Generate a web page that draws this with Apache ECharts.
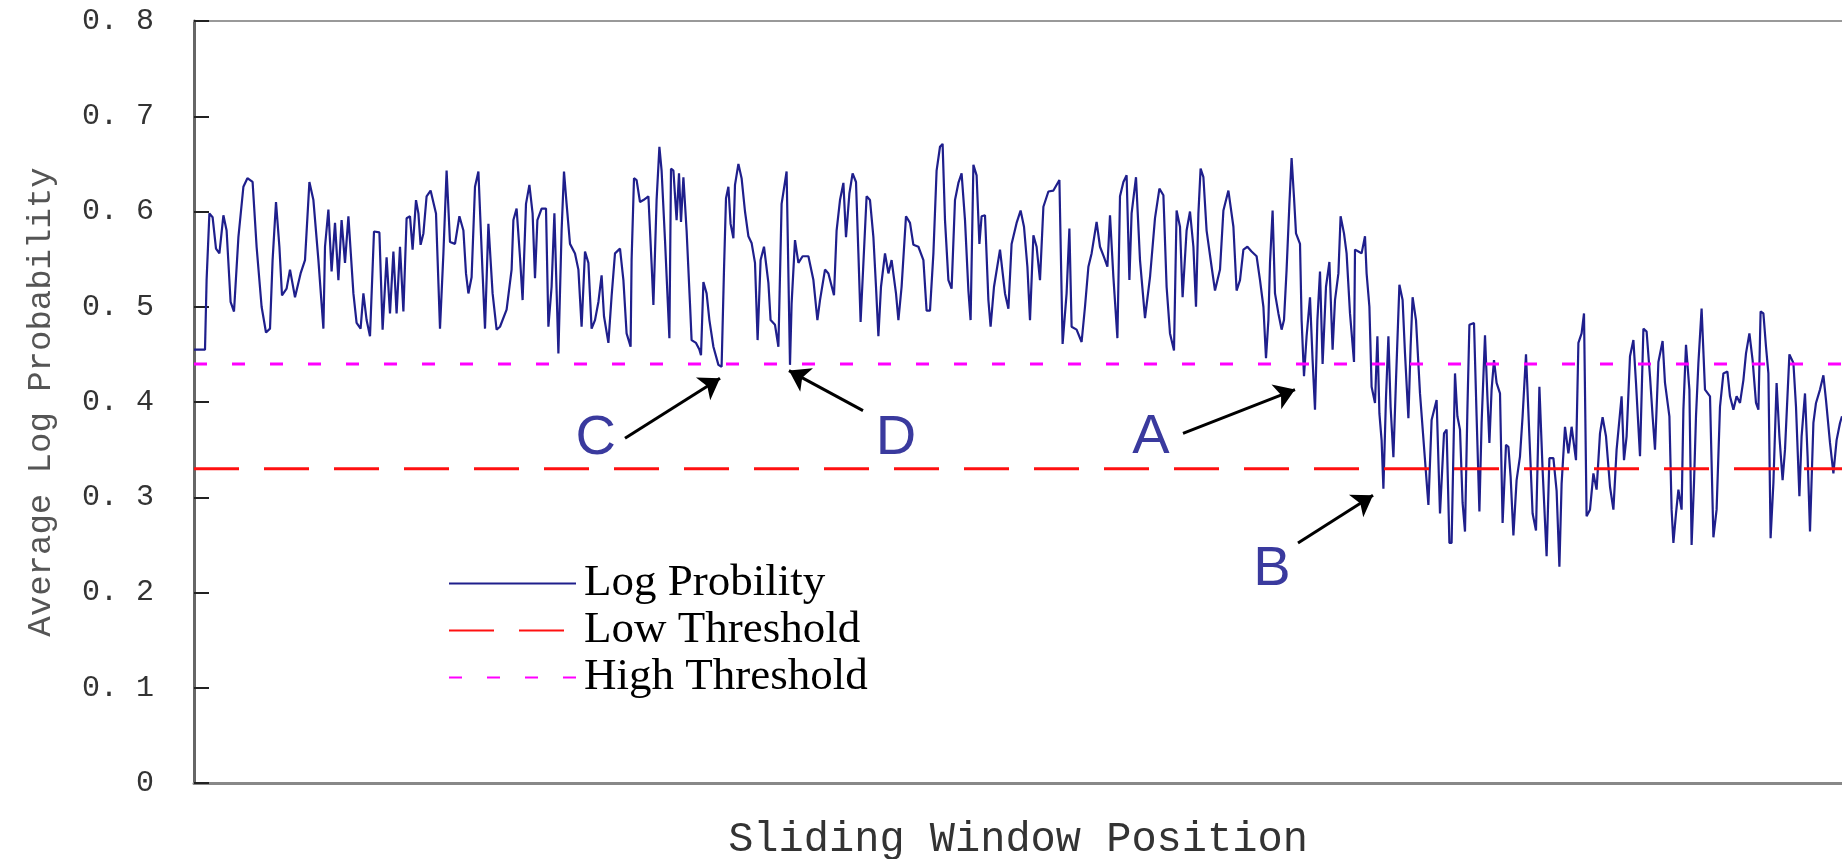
<!DOCTYPE html>
<html>
<head>
<meta charset="utf-8">
<title>Average Log Probability</title>
<script src="https://cdn.jsdelivr.net/npm/echarts@6/dist/echarts.min.js"></script>
<style>
  html, body { margin: 0; padding: 0; background: #fff; }
  #chart { width: 1842px; height: 859px; }
</style>
</head>
<body>
<div id="chart"></div>
<script>
// sliding window position (x) and average log probability (y)
const windowPos = [
  0, 5.5, 6.3, 7.7, 9.3, 11, 12.7, 14.7, 16.3, 18.3, 20, 22.2, 24.7, 26.7, 29.3, 31.3, 33.8, 36, 38, 39.3,
  41, 42.7, 44, 46.3, 48, 50.5, 53.3, 55.5, 57.7, 59.7, 62.2, 64.7, 65.5, 67.2, 68.8, 70.5, 72.2, 73.8, 75.5, 77.2,
  79.7, 81.3, 83.3, 84.7, 86.3, 88, 90, 92.7, 94.3, 96.3, 98, 99.7, 101.3, 103,
  104.7, 106.3, 108, 109.3, 111, 112.2, 113.3, 114.7, 116.3, 118.3, 121, 123, 124.7, 126.3, 128, 130.5, 132.7, 134.7,
  136, 137.2, 138.8, 140.5, 142.2, 144.3, 145.5, 147.2, 149.3, 151.3, 153, 156.3, 158.8, 159.7, 161.3, 163, 164.3,
  166, 167.7, 169.3, 170.5, 171.7, 173.8, 176, 177.2, 178.8, 180.2, 182.2, 183.8, 185, 186.3, 188, 190.5, 192.2,
  193.8, 195.5, 197.2, 198.8, 200.5, 202.2, 203.8, 205, 207.2,
  208.8, 210.5, 213, 214.7, 216.3, 218.3, 218.8, 220, 221.3, 223, 224.7, 227.2, 228.8, 229.7, 231.3, 232.7, 233.8,
  235.5, 237.7, 238.5, 239.7, 241.3, 242.5, 243.5, 244.7, 246.3, 248, 248.8, 251, 252.7, 253.5, 254.7, 256.3, 257.7,
  259.7, 262.2, 263.8, 265, 266, 267.2, 268.3, 269.7, 270.5, 272.2, 273.8, 275.5, 277.2, 278.8, 280.5, 281.8, 283.3,
  285, 287.2, 288.3, 290.5, 292.2, 293.8, 296.3, 298, 298.8, 300.5, 302.2, 304.3, 307.2, 309.7, 311.7, 313,
  315.5, 317.2, 320, 321.3, 323, 324.7, 326, 327.7, 329.3, 331, 332.2, 333.3, 334.7, 336.3, 338, 339.7, 341, 342.2,
  343.5, 345.5, 347.2, 348.8, 351, 352.2, 353.8, 356, 358, 359.7, 362.2, 364.7, 366.3, 368, 369.7, 371.3, 373, 374.3,
  375.5, 377.2, 378.8, 380.5, 382.2, 383.8, 385.5, 387.2, 388.3, 389.7, 391.3, 392.7, 393.8, 395.5, 397.2, 398.3,
  400, 403, 405.5, 407.2, 408.8, 411.3, 413.3, 415, 416.7, 418,
  419.7, 421.3, 423, 424.7, 427.2, 429.7, 432.7, 434.3, 436.3, 437.7, 438.8, 441.3, 443.8, 445.5, 447.2, 448.8,
  451.3, 453, 455, 456.7, 458, 459.7, 461.7, 463, 464.7, 466.3, 467.7, 468.8, 471, 473, 475.5, 478, 480.5, 482.7,
  484.7, 486.3, 488, 490, 491.3, 493, 494.3, 496.3, 498, 499.7, 501, 502.2, 503.3, 504.7, 506.3, 508.8, 510.5, 513,
  514.7, 517.2, 519.7, 521.3, 523,
  524.7, 526.7, 528.8, 531.3, 533, 534.7, 536, 537.2, 538, 539.3, 540.5, 542.2, 543.8, 545, 546.3, 547.7, 548.8,
  550, 551, 553, 553.8, 555, 556.3, 558, 559.3, 560.5, 561.7, 563, 564.3, 566, 567.7, 569.3, 570.5, 572.2, 573.3,
  575, 576.3, 578, 580, 580.5, 582.2, 583.8, 585.5, 586.3, 587.7, 588.8, 590.5, 591.7, 592.7, 593.8, 594.7, 596,
  597.2, 598.3, 599.7, 601, 602.7, 604.3, 605.5, 607.2, 608.3, 609.3, 611, 613, 615, 617.2, 618.8, 621.3, 623, 625,
  626.3, 627.7,
  628.8, 630.5, 631.7, 633, 634.3, 635.5, 636.7, 637.7, 640, 641.3, 642.7, 643.8, 645.5, 646.7, 647.7, 648.8, 650,
  651.3, 653, 654.3, 656, 657.2, 658.3, 659.7, 661.3, 663, 664.3, 666, 667.7, 669.3, 671, 672.7, 674.3, 676.3, 677.7,
  679.7, 681.3, 682.7, 683.8, 685.5, 687.2, 688.8, 691, 692.2, 693.8, 695, 696.3, 698, 699.7, 701.3, 703, 704.3,
  706, 708, 709.7, 711.3, 713.8, 715, 716.3, 718, 719.7, 721, 723, 724.7, 726.3, 728,
  729.3, 730.5, 732.2, 734.3, 735.5, 737.7, 738.8, 739.7, 741, 742.2, 743.8, 744.7, 746, 747.7, 748.8, 750, 751,
  752.2, 753.8, 755.5, 758, 759.7, 761.3, 763, 764.7, 766.7, 768, 769.7, 771.3, 773, 774.7, 776, 777.7, 779.3, 781,
  782.2, 783.3, 784.7, 786, 787.2, 788.3, 789.7, 791.3, 792.7, 794.3, 795.5, 797.7, 799.7, 801, 802.7, 803.8, 805.5,
  806.8, 808, 809.7, 811, 813, 814.7, 816, 818, 819.7, 821.3, 823, 824
];
const logProb = [
  0.455, 0.455, 0.528, 0.598, 0.594, 0.561, 0.556, 0.596, 0.580, 0.505, 0.495, 0.573, 0.626, 0.635, 0.631, 0.563, 0.500, 0.473, 0.477, 0.549,
  0.610, 0.563, 0.512, 0.519, 0.539, 0.510, 0.535, 0.549, 0.631, 0.612, 0.549, 0.477, 0.563, 0.602, 0.537, 0.588, 0.528, 0.591, 0.546, 0.595,
  0.514, 0.483, 0.477, 0.514, 0.486, 0.469, 0.579, 0.578, 0.476, 0.552, 0.493, 0.558, 0.493, 0.563,
  0.495, 0.593, 0.595, 0.560, 0.612, 0.598, 0.565, 0.577, 0.616, 0.622, 0.598, 0.477, 0.556, 0.643, 0.568, 0.566, 0.595, 0.580,
  0.535, 0.514, 0.531, 0.626, 0.642, 0.535, 0.477, 0.587, 0.514, 0.476, 0.479, 0.497, 0.539, 0.591, 0.603, 0.552, 0.507,
  0.608, 0.628, 0.598, 0.530, 0.591, 0.603, 0.603, 0.479, 0.521, 0.598, 0.451, 0.580, 0.642, 0.608, 0.566, 0.556, 0.539,
  0.479, 0.558, 0.546, 0.477, 0.486, 0.505, 0.533, 0.490, 0.462,
  0.511, 0.556, 0.561, 0.528, 0.472, 0.458, 0.549, 0.635, 0.633, 0.610, 0.612, 0.616, 0.545, 0.502, 0.612, 0.668, 0.643,
  0.570, 0.467, 0.645, 0.643, 0.591, 0.640, 0.589, 0.636, 0.580, 0.503, 0.465, 0.462, 0.455, 0.449, 0.526, 0.514, 0.486,
  0.458, 0.439, 0.437, 0.539, 0.614, 0.626, 0.587, 0.572, 0.628, 0.650, 0.635, 0.600, 0.574, 0.567, 0.546, 0.465, 0.549,
  0.563, 0.525, 0.486, 0.481, 0.458, 0.608, 0.642, 0.439, 0.503, 0.570, 0.546, 0.553, 0.553, 0.528, 0.486, 0.507,
  0.539, 0.535, 0.512, 0.580, 0.612, 0.630, 0.573, 0.619, 0.640, 0.631, 0.556, 0.484, 0.546, 0.616, 0.612, 0.573, 0.521, 0.469,
  0.521, 0.556, 0.535, 0.549, 0.514, 0.486, 0.521, 0.595, 0.588, 0.565, 0.563, 0.549, 0.496, 0.496, 0.556, 0.643, 0.668, 0.671,
  0.591, 0.528, 0.519, 0.612, 0.630, 0.640, 0.591, 0.517, 0.486, 0.649, 0.638, 0.566, 0.595, 0.596, 0.507, 0.479,
  0.521, 0.560, 0.514, 0.498, 0.566, 0.588, 0.601, 0.584, 0.542, 0.486,
  0.575, 0.563, 0.528, 0.605, 0.621, 0.622, 0.633, 0.461, 0.514, 0.582, 0.479, 0.476, 0.463, 0.500, 0.542, 0.556,
  0.589, 0.563, 0.552, 0.542, 0.596, 0.531, 0.467, 0.616, 0.631, 0.638, 0.528, 0.598, 0.636, 0.549, 0.488, 0.531, 0.593, 0.624,
  0.617, 0.521, 0.472, 0.454, 0.601, 0.584, 0.510, 0.580, 0.600, 0.563, 0.500, 0.598, 0.645, 0.636, 0.580, 0.542, 0.517, 0.539,
  0.601, 0.622, 0.584, 0.517, 0.528,
  0.560, 0.563, 0.558, 0.553, 0.528, 0.500, 0.446, 0.486, 0.546, 0.601, 0.514, 0.493, 0.476, 0.486, 0.539, 0.608, 0.656,
  0.615, 0.577, 0.566, 0.486, 0.427, 0.469, 0.510, 0.444, 0.392, 0.486, 0.537, 0.440, 0.521, 0.547, 0.455, 0.507, 0.535, 0.595,
  0.577, 0.556, 0.493, 0.442, 0.560, 0.558, 0.556, 0.574, 0.535, 0.500, 0.416, 0.399, 0.469, 0.388, 0.360, 0.309, 0.405,
  0.469, 0.395, 0.342, 0.423, 0.523, 0.507, 0.451, 0.383, 0.458, 0.510, 0.486, 0.409, 0.353, 0.292, 0.381, 0.402, 0.283, 0.367,
  0.371, 0.252,
  0.252, 0.430, 0.385, 0.371, 0.294, 0.264, 0.392, 0.481, 0.483, 0.385, 0.285, 0.378, 0.470, 0.406, 0.357, 0.413, 0.444,
  0.420, 0.409, 0.273, 0.355, 0.353, 0.322, 0.260, 0.318, 0.343, 0.385, 0.450, 0.364, 0.283, 0.265, 0.416, 0.329, 0.238, 0.341,
  0.341, 0.307, 0.227, 0.314, 0.374, 0.346, 0.374, 0.339, 0.462, 0.472, 0.493, 0.280, 0.287, 0.325, 0.308, 0.367, 0.384,
  0.364, 0.311, 0.287, 0.350, 0.406, 0.339, 0.364, 0.448, 0.465, 0.420, 0.343, 0.477, 0.474, 0.427,
  0.385, 0.350, 0.442, 0.464, 0.420, 0.385, 0.287, 0.252, 0.283, 0.308, 0.287, 0.392, 0.460, 0.413, 0.250, 0.315, 0.385,
  0.441, 0.498, 0.413, 0.406, 0.258, 0.287, 0.395, 0.430, 0.432, 0.406, 0.392, 0.406, 0.399, 0.423, 0.451, 0.472, 0.444, 0.399,
  0.392, 0.495, 0.493, 0.458, 0.430, 0.257, 0.315, 0.420, 0.364, 0.318, 0.350, 0.450, 0.441, 0.395, 0.301, 0.364, 0.409,
  0.343, 0.264, 0.378, 0.399, 0.413, 0.428, 0.402, 0.357, 0.325, 0.360, 0.378, 0.385
];

const X_MIN = 0;
const X_MAX = 824;
const LOW_THRESHOLD = 0.33;
const HIGH_THRESHOLD = 0.44;

// annotation letters and arrows (data coords)
const markNames = ["C", "D", "A", "B"];
const markAt = [[200.8, 0.362], [351, 0.362], [478.5, 0.363], [539, 0.224]];
const arrowFrom = [[215.5, 0.362], [334.5, 0.391], [494.5, 0.367], [552, 0.252]];
const arrowTo = [[263, 0.425], [297.5, 0.433], [550.5, 0.413], [589.5, 0.302]];

const chart = echarts.init(document.getElementById("chart"));

const option = {
  animation: false,
  backgroundColor: "#fff",
  grid: { left: 194, right: 0, top: 21, bottom: 76, containLabel: false, outerBoundsMode: "none" },
  legend: {
    orient: "vertical",
    left: 443,
    top: 556,
    itemWidth: 127,
    itemHeight: 14,
    itemGap: 2,
    itemStyle: { opacity: 0 },
    textStyle: {
      fontFamily: "'Liberation Serif', 'Times New Roman', serif",
      fontSize: 45,
      lineHeight: 40,
      color: "#000",
      padding: [0, 0, 0, 3],
    },
    data: ["Log Probility", "Low Threshold", "High Threshold"],
  },
  xAxis: [
    {
      type: "value",
      min: X_MIN,
      max: X_MAX,
      name: "Sliding Window Position",
      nameLocation: "middle",
      nameGap: 36,
      nameTextStyle: {
        fontFamily: "'Liberation Mono', monospace",
        fontSize: 42,
        color: "#333",
      },
      axisLine: { show: true, lineStyle: { color: "#888", width: 3 } },
      axisTick: { show: false },
      axisLabel: { show: false },
      splitLine: { show: false },
    },
    {
      // top border
      type: "value",
      position: "top",
      min: X_MIN,
      max: X_MAX,
      axisLine: { show: true, lineStyle: { color: "#999", width: 2 } },
      axisTick: { show: false },
      axisLabel: { show: false },
      splitLine: { show: false },
    },
  ],
  yAxis: {
    type: "value",
    min: 0,
    max: 0.8,
    interval: 0.1,
    name: "Average Log Probability",
    nameLocation: "middle",
    nameGap: 136,
    nameTextStyle: {
      fontFamily: "'Liberation Mono', monospace",
      fontSize: 34,
      color: "#555",
    },
    axisLine: { show: true, lineStyle: { color: "#666", width: 3 } },
    axisTick: { show: true, inside: true, length: 15, lineStyle: { color: "#222", width: 2 } },
    axisLabel: {
      margin: 40,
      fontFamily: "'Liberation Mono', monospace",
      fontSize: 30,
      color: "#333",
      formatter: (v) => (v === 0 ? "0" : v.toFixed(1).replace(".", ". ")),
    },
    splitLine: { show: false },
  },
  series: [
    {
      name: "Log Probility",
      type: "line",
      symbol: "none",
      data: windowPos.map((p, i) => [p, logProb[i]]),
      lineStyle: { color: "#1f1f8c", width: 2.2 },
      itemStyle: { color: "#1f1f8c" },
      z: 2,
      markLine: {
        silent: true,
        symbol: ["none", "arrow"],
        symbolSize: 20,
        label: { show: false },
        lineStyle: { color: "#000", width: 3, type: "solid" },
        data: arrowFrom.map((a, i) => [
          { coord: a, symbol: "none" },
          { coord: arrowTo[i], symbol: "arrow", symbolSize: 20 },
        ]),
      },
      markPoint: {
        silent: true,
        symbol: "circle",
        symbolSize: 1,
        itemStyle: { color: "rgba(0,0,0,0)" },
        label: {
          show: true,
          position: "inside",
          fontFamily: "'Liberation Sans', Arial, sans-serif",
          fontSize: 56,
          color: "#3a3a9e",
          formatter: (p) => p.name,
        },
        data: markNames.map((n, i) => ({ name: n, coord: markAt[i] })),
      },
    },
    {
      name: "Low Threshold",
      type: "line",
      symbol: "none",
      data: [[X_MIN, LOW_THRESHOLD], [X_MAX, LOW_THRESHOLD]],
      lineStyle: { color: "#ff1010", width: 3, type: [45, 25] },
      itemStyle: { color: "#ff1010" },
      z: 3,
    },
    {
      name: "High Threshold",
      type: "line",
      symbol: "none",
      data: [[X_MIN, HIGH_THRESHOLD], [X_MAX, HIGH_THRESHOLD]],
      lineStyle: { color: "#ff00ff", width: 3, type: [13, 25] },
      itemStyle: { color: "#ff00ff" },
      z: 3,
    },
  ],
};

chart.setOption(option);
</script>
</body>
</html>
